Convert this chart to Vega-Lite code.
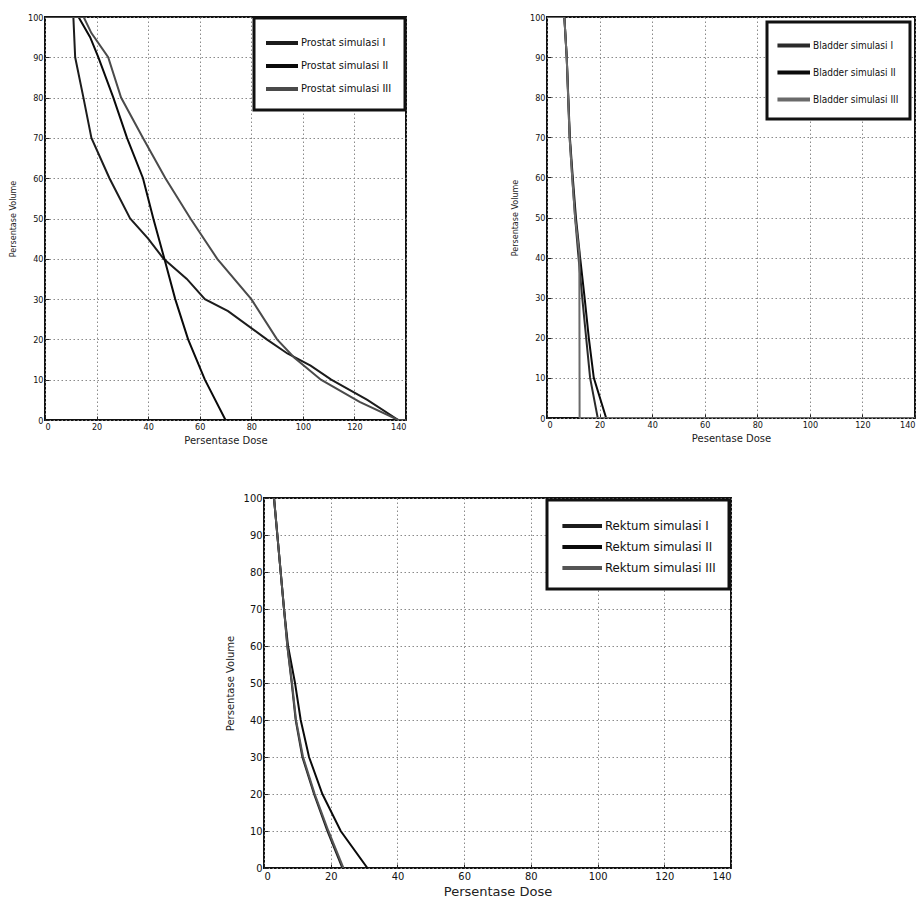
{
  "$schema": "https://vega.github.io/schema/vega-lite/v6.json",
  "background": "white",
  "padding": {"left": 8, "top": 12, "right": 0, "bottom": 0},
  "datasets": {
    "prostat": [
      {"series": "Prostat simulasi I", "i": 0, "dose": 0, "volume": 100},
      {"series": "Prostat simulasi I", "i": 1, "dose": 11, "volume": 100},
      {"series": "Prostat simulasi I", "i": 2, "dose": 11.7, "volume": 90},
      {"series": "Prostat simulasi I", "i": 3, "dose": 14.9, "volume": 80},
      {"series": "Prostat simulasi I", "i": 4, "dose": 18, "volume": 70},
      {"series": "Prostat simulasi I", "i": 5, "dose": 25, "volume": 60},
      {"series": "Prostat simulasi I", "i": 6, "dose": 33, "volume": 50},
      {"series": "Prostat simulasi I", "i": 7, "dose": 40, "volume": 45},
      {"series": "Prostat simulasi I", "i": 8, "dose": 46, "volume": 40},
      {"series": "Prostat simulasi I", "i": 9, "dose": 55, "volume": 35},
      {"series": "Prostat simulasi I", "i": 10, "dose": 62, "volume": 30},
      {"series": "Prostat simulasi I", "i": 11, "dose": 71, "volume": 27},
      {"series": "Prostat simulasi I", "i": 12, "dose": 86, "volume": 20},
      {"series": "Prostat simulasi I", "i": 13, "dose": 94, "volume": 16.5},
      {"series": "Prostat simulasi I", "i": 14, "dose": 103, "volume": 13.5},
      {"series": "Prostat simulasi I", "i": 15, "dose": 111, "volume": 10},
      {"series": "Prostat simulasi I", "i": 16, "dose": 125, "volume": 5},
      {"series": "Prostat simulasi I", "i": 17, "dose": 137, "volume": 0},
      {"series": "Prostat simulasi I", "i": 18, "dose": 140, "volume": 0},
      {"series": "Prostat simulasi II", "i": 0, "dose": 0, "volume": 100},
      {"series": "Prostat simulasi II", "i": 1, "dose": 13, "volume": 100},
      {"series": "Prostat simulasi II", "i": 2, "dose": 17.5, "volume": 95},
      {"series": "Prostat simulasi II", "i": 3, "dose": 20.7, "volume": 90},
      {"series": "Prostat simulasi II", "i": 4, "dose": 26.5, "volume": 80},
      {"series": "Prostat simulasi II", "i": 5, "dose": 31.8, "volume": 70},
      {"series": "Prostat simulasi II", "i": 6, "dose": 38, "volume": 60},
      {"series": "Prostat simulasi II", "i": 7, "dose": 42, "volume": 50},
      {"series": "Prostat simulasi II", "i": 8, "dose": 46.3, "volume": 40},
      {"series": "Prostat simulasi II", "i": 9, "dose": 50.5, "volume": 30},
      {"series": "Prostat simulasi II", "i": 10, "dose": 55.5, "volume": 20},
      {"series": "Prostat simulasi II", "i": 11, "dose": 62, "volume": 10},
      {"series": "Prostat simulasi II", "i": 12, "dose": 70, "volume": 0},
      {"series": "Prostat simulasi II", "i": 13, "dose": 140, "volume": 0},
      {"series": "Prostat simulasi III", "i": 0, "dose": 0, "volume": 100},
      {"series": "Prostat simulasi III", "i": 1, "dose": 15, "volume": 100},
      {"series": "Prostat simulasi III", "i": 2, "dose": 18, "volume": 96},
      {"series": "Prostat simulasi III", "i": 3, "dose": 24.5, "volume": 90},
      {"series": "Prostat simulasi III", "i": 4, "dose": 29.5, "volume": 80},
      {"series": "Prostat simulasi III", "i": 5, "dose": 38, "volume": 70},
      {"series": "Prostat simulasi III", "i": 6, "dose": 46.7, "volume": 60},
      {"series": "Prostat simulasi III", "i": 7, "dose": 56.4, "volume": 50},
      {"series": "Prostat simulasi III", "i": 8, "dose": 66.8, "volume": 40},
      {"series": "Prostat simulasi III", "i": 9, "dose": 80, "volume": 30},
      {"series": "Prostat simulasi III", "i": 10, "dose": 90, "volume": 20},
      {"series": "Prostat simulasi III", "i": 11, "dose": 96.6, "volume": 15.5},
      {"series": "Prostat simulasi III", "i": 12, "dose": 107, "volume": 10},
      {"series": "Prostat simulasi III", "i": 13, "dose": 122, "volume": 4.5},
      {"series": "Prostat simulasi III", "i": 14, "dose": 137, "volume": 0},
      {"series": "Prostat simulasi III", "i": 15, "dose": 140, "volume": 0}
    ],
    "bladder": [
      {"series": "Bladder simulasi I", "i": 0, "dose": 0, "volume": 100},
      {"series": "Bladder simulasi I", "i": 1, "dose": 6.6, "volume": 100},
      {"series": "Bladder simulasi I", "i": 2, "dose": 7.5, "volume": 90},
      {"series": "Bladder simulasi I", "i": 3, "dose": 8.6, "volume": 70},
      {"series": "Bladder simulasi I", "i": 4, "dose": 9.6, "volume": 60},
      {"series": "Bladder simulasi I", "i": 5, "dose": 10.7, "volume": 50},
      {"series": "Bladder simulasi I", "i": 6, "dose": 12, "volume": 40},
      {"series": "Bladder simulasi I", "i": 7, "dose": 13.4, "volume": 30},
      {"series": "Bladder simulasi I", "i": 8, "dose": 14.9, "volume": 20},
      {"series": "Bladder simulasi I", "i": 9, "dose": 16.4, "volume": 10},
      {"series": "Bladder simulasi I", "i": 10, "dose": 19.3, "volume": 0},
      {"series": "Bladder simulasi I", "i": 11, "dose": 140, "volume": 0},
      {"series": "Bladder simulasi II", "i": 0, "dose": 0, "volume": 100},
      {"series": "Bladder simulasi II", "i": 1, "dose": 6.6, "volume": 100},
      {"series": "Bladder simulasi II", "i": 2, "dose": 7.5, "volume": 90},
      {"series": "Bladder simulasi II", "i": 3, "dose": 8.7, "volume": 70},
      {"series": "Bladder simulasi II", "i": 4, "dose": 9.8, "volume": 60},
      {"series": "Bladder simulasi II", "i": 5, "dose": 11, "volume": 50},
      {"series": "Bladder simulasi II", "i": 6, "dose": 12.6, "volume": 40},
      {"series": "Bladder simulasi II", "i": 7, "dose": 14.3, "volume": 30},
      {"series": "Bladder simulasi II", "i": 8, "dose": 15.9, "volume": 20},
      {"series": "Bladder simulasi II", "i": 9, "dose": 17.8, "volume": 10},
      {"series": "Bladder simulasi II", "i": 10, "dose": 22.5, "volume": 0},
      {"series": "Bladder simulasi II", "i": 11, "dose": 140, "volume": 0},
      {"series": "Bladder simulasi III", "i": 0, "dose": 0, "volume": 100},
      {"series": "Bladder simulasi III", "i": 1, "dose": 6.6, "volume": 100},
      {"series": "Bladder simulasi III", "i": 2, "dose": 7.5, "volume": 90},
      {"series": "Bladder simulasi III", "i": 3, "dose": 8.6, "volume": 70},
      {"series": "Bladder simulasi III", "i": 4, "dose": 9.6, "volume": 60},
      {"series": "Bladder simulasi III", "i": 5, "dose": 10.7, "volume": 50},
      {"series": "Bladder simulasi III", "i": 6, "dose": 12.3, "volume": 41},
      {"series": "Bladder simulasi III", "i": 7, "dose": 12.4, "volume": 0},
      {"series": "Bladder simulasi III", "i": 8, "dose": 140, "volume": 0}
    ],
    "rektum": [
      {"series": "Rektum simulasi I", "i": 0, "dose": 3, "volume": 100},
      {"series": "Rektum simulasi I", "i": 1, "dose": 4, "volume": 90},
      {"series": "Rektum simulasi I", "i": 2, "dose": 5, "volume": 80},
      {"series": "Rektum simulasi I", "i": 3, "dose": 6, "volume": 70},
      {"series": "Rektum simulasi I", "i": 4, "dose": 7, "volume": 60},
      {"series": "Rektum simulasi I", "i": 5, "dose": 8.3, "volume": 50},
      {"series": "Rektum simulasi I", "i": 6, "dose": 9.5, "volume": 40},
      {"series": "Rektum simulasi I", "i": 7, "dose": 11.5, "volume": 30},
      {"series": "Rektum simulasi I", "i": 8, "dose": 15, "volume": 20},
      {"series": "Rektum simulasi I", "i": 9, "dose": 19, "volume": 10},
      {"series": "Rektum simulasi I", "i": 10, "dose": 23.5, "volume": 0},
      {"series": "Rektum simulasi II", "i": 0, "dose": 3, "volume": 100},
      {"series": "Rektum simulasi II", "i": 1, "dose": 4, "volume": 90},
      {"series": "Rektum simulasi II", "i": 2, "dose": 5, "volume": 80},
      {"series": "Rektum simulasi II", "i": 3, "dose": 6, "volume": 70},
      {"series": "Rektum simulasi II", "i": 4, "dose": 7.2, "volume": 60},
      {"series": "Rektum simulasi II", "i": 5, "dose": 9.3, "volume": 50},
      {"series": "Rektum simulasi II", "i": 6, "dose": 11, "volume": 40},
      {"series": "Rektum simulasi II", "i": 7, "dose": 13.5, "volume": 30},
      {"series": "Rektum simulasi II", "i": 8, "dose": 17.5, "volume": 20},
      {"series": "Rektum simulasi II", "i": 9, "dose": 23, "volume": 10},
      {"series": "Rektum simulasi II", "i": 10, "dose": 31, "volume": 0},
      {"series": "Rektum simulasi III", "i": 0, "dose": 3, "volume": 100},
      {"series": "Rektum simulasi III", "i": 1, "dose": 4, "volume": 90},
      {"series": "Rektum simulasi III", "i": 2, "dose": 5, "volume": 80},
      {"series": "Rektum simulasi III", "i": 3, "dose": 6, "volume": 70},
      {"series": "Rektum simulasi III", "i": 4, "dose": 7, "volume": 60},
      {"series": "Rektum simulasi III", "i": 5, "dose": 8.4, "volume": 50},
      {"series": "Rektum simulasi III", "i": 6, "dose": 9.6, "volume": 40},
      {"series": "Rektum simulasi III", "i": 7, "dose": 11.7, "volume": 30},
      {"series": "Rektum simulasi III", "i": 8, "dose": 15.2, "volume": 20},
      {"series": "Rektum simulasi III", "i": 9, "dose": 19.3, "volume": 10},
      {"series": "Rektum simulasi III", "i": 10, "dose": 23.8, "volume": 0}
    ]
  },
  "config": {
    "font": "DejaVu Sans Condensed, Liberation Sans, sans-serif",
    "view": {"stroke": "#111", "strokeWidth": 2},
    "axis": {
      "grid": true,
      "gridColor": "#8a8a8a",
      "gridDash": [1.5, 2.5],
      "gridWidth": 1,
      "domain": false,
      "ticks": true,
      "tickSize": -4,
      "tickColor": "#222",
      "labelColor": "#111",
      "labelFont": "DejaVu Sans Condensed, Liberation Sans, sans-serif",
      "labelFontSize": 9,
      "titleFont": "DejaVu Sans, sans-serif",
      "titleFontWeight": "normal",
      "titleColor": "#222",
      "labelPadding": 6
    },
    "legend": {
      "orient": "top-right",
      "offset": 2,
      "title": null,
      "fillColor": "white",
      "strokeColor": "#111",
      "strokeWidth": 3,
      "symbolStrokeWidth": 4,
      "labelFont": "DejaVu Sans Condensed, Liberation Sans Narrow, sans-serif",
      "labelColor": "#111",
      "labelOffset": 1
    }
  },
  "resolve": {"scale": {"color": "independent"}, "legend": {"color": "independent"}},
  "vconcat": [
    {
      "hconcat": [
        {
          "data": {"name": "prostat"},
          "width": 361,
          "height": 403,
          "mark": {"type": "line", "clip": true, "strokeWidth": 2},
          "encoding": {
            "x": {"field": "dose", "type": "quantitative", "title": "Persentase Dose",
                  "scale": {"domain": [0, 140], "nice": false},
                  "axis": {"values": [0, 20, 40, 60, 80, 100, 120, 140], "titleFontSize": 10, "titlePadding": 4}},
            "y": {"field": "volume", "type": "quantitative", "title": "Persentase Volume",
                  "scale": {"domain": [0, 100], "nice": false},
                  "axis": {"values": [0, 10, 20, 30, 40, 50, 60, 70, 80, 90, 100], "titleFontSize": 8, "titlePadding": 10}},
            "color": {"field": "series", "type": "nominal",
                      "scale": {"domain": ["Prostat simulasi I", "Prostat simulasi II", "Prostat simulasi III"], "range": ["#1c1c1c", "#0a0a0a", "#4a4a4a"]},
                      "legend": {"labelFontSize": 11, "padding": 13, "rowPadding": 3, "offset": 1,
                                 "symbolType": "M-2.2,0H1", "symbolSize": 400, "symbolStrokeWidth": 4, "symbolOffset": 9}},
            "order": {"field": "i", "type": "quantitative"}
          }
        },
        {
          "data": {"name": "bladder"},
          "width": 368,
          "height": 401,
          "mark": {"type": "line", "clip": true, "strokeWidth": 2},
          "encoding": {
            "x": {"field": "dose", "type": "quantitative", "title": "Pesentase Dose",
                  "scale": {"domain": [0, 140], "nice": false},
                  "axis": {"values": [0, 20, 40, 60, 80, 100, 120, 140], "titleFontSize": 10, "titlePadding": 4}},
            "y": {"field": "volume", "type": "quantitative", "title": "Persentase Volume",
                  "scale": {"domain": [0, 100], "nice": false},
                  "axis": {"values": [0, 10, 20, 30, 40, 50, 60, 70, 80, 90, 100], "titleFontSize": 8, "titlePadding": 10}},
            "color": {"field": "series", "type": "nominal",
                      "scale": {"domain": ["Bladder simulasi I", "Bladder simulasi II", "Bladder simulasi III"], "range": ["#2a2a2a", "#0a0a0a", "#6a6a6a"]},
                      "legend": {"labelFontSize": 10, "padding": 11, "rowPadding": 6, "offset": 5,
                                 "symbolType": "M-2.1,0H1", "symbolSize": 441, "symbolStrokeWidth": 4, "symbolOffset": 9}},
            "order": {"field": "i", "type": "quantitative"}
          }
        }
      ],
      "spacing": 102,
      "resolve": {"scale": {"color": "independent"}, "legend": {"color": "independent"}}
    },
    {
      "hconcat": [
        {
          "data": {"values": []},
          "mark": "point",
          "width": 179,
          "height": 10,
          "view": {"stroke": null}
        },
        {
          "data": {"name": "rektum"},
          "width": 467,
          "height": 370,
          "mark": {"type": "line", "clip": true, "strokeWidth": 2},
          "encoding": {
            "x": {"field": "dose", "type": "quantitative", "title": "Persentase Dose",
                  "scale": {"domain": [0, 140], "nice": false},
                  "axis": {"values": [0, 20, 40, 60, 80, 100, 120, 140], "titleFontSize": 13, "titlePadding": 4, "labelFontSize": 11}},
            "y": {"field": "volume", "type": "quantitative", "title": "Persentase Volume",
                  "scale": {"domain": [0, 100], "nice": false},
                  "axis": {"values": [0, 10, 20, 30, 40, 50, 60, 70, 80, 90, 100], "titleFontSize": 10, "titlePadding": 8, "labelFontSize": 11}},
            "color": {"field": "series", "type": "nominal",
                      "scale": {"domain": ["Rektum simulasi I", "Rektum simulasi II", "Rektum simulasi III"], "range": ["#1c1c1c", "#0a0a0a", "#555555"]},
                      "legend": {"labelFontSize": 13, "padding": 13, "rowPadding": 0, "offset": 2,
                                 "symbolType": "M-2.6,0H1", "symbolSize": 484, "symbolStrokeWidth": 4, "symbolOffset": 18}},
            "order": {"field": "i", "type": "quantitative"}
          }
        }
      ],
      "spacing": 0,
      "resolve": {"scale": {"color": "independent"}, "legend": {"color": "independent"}}
    }
  ],
  "spacing": 45
}
